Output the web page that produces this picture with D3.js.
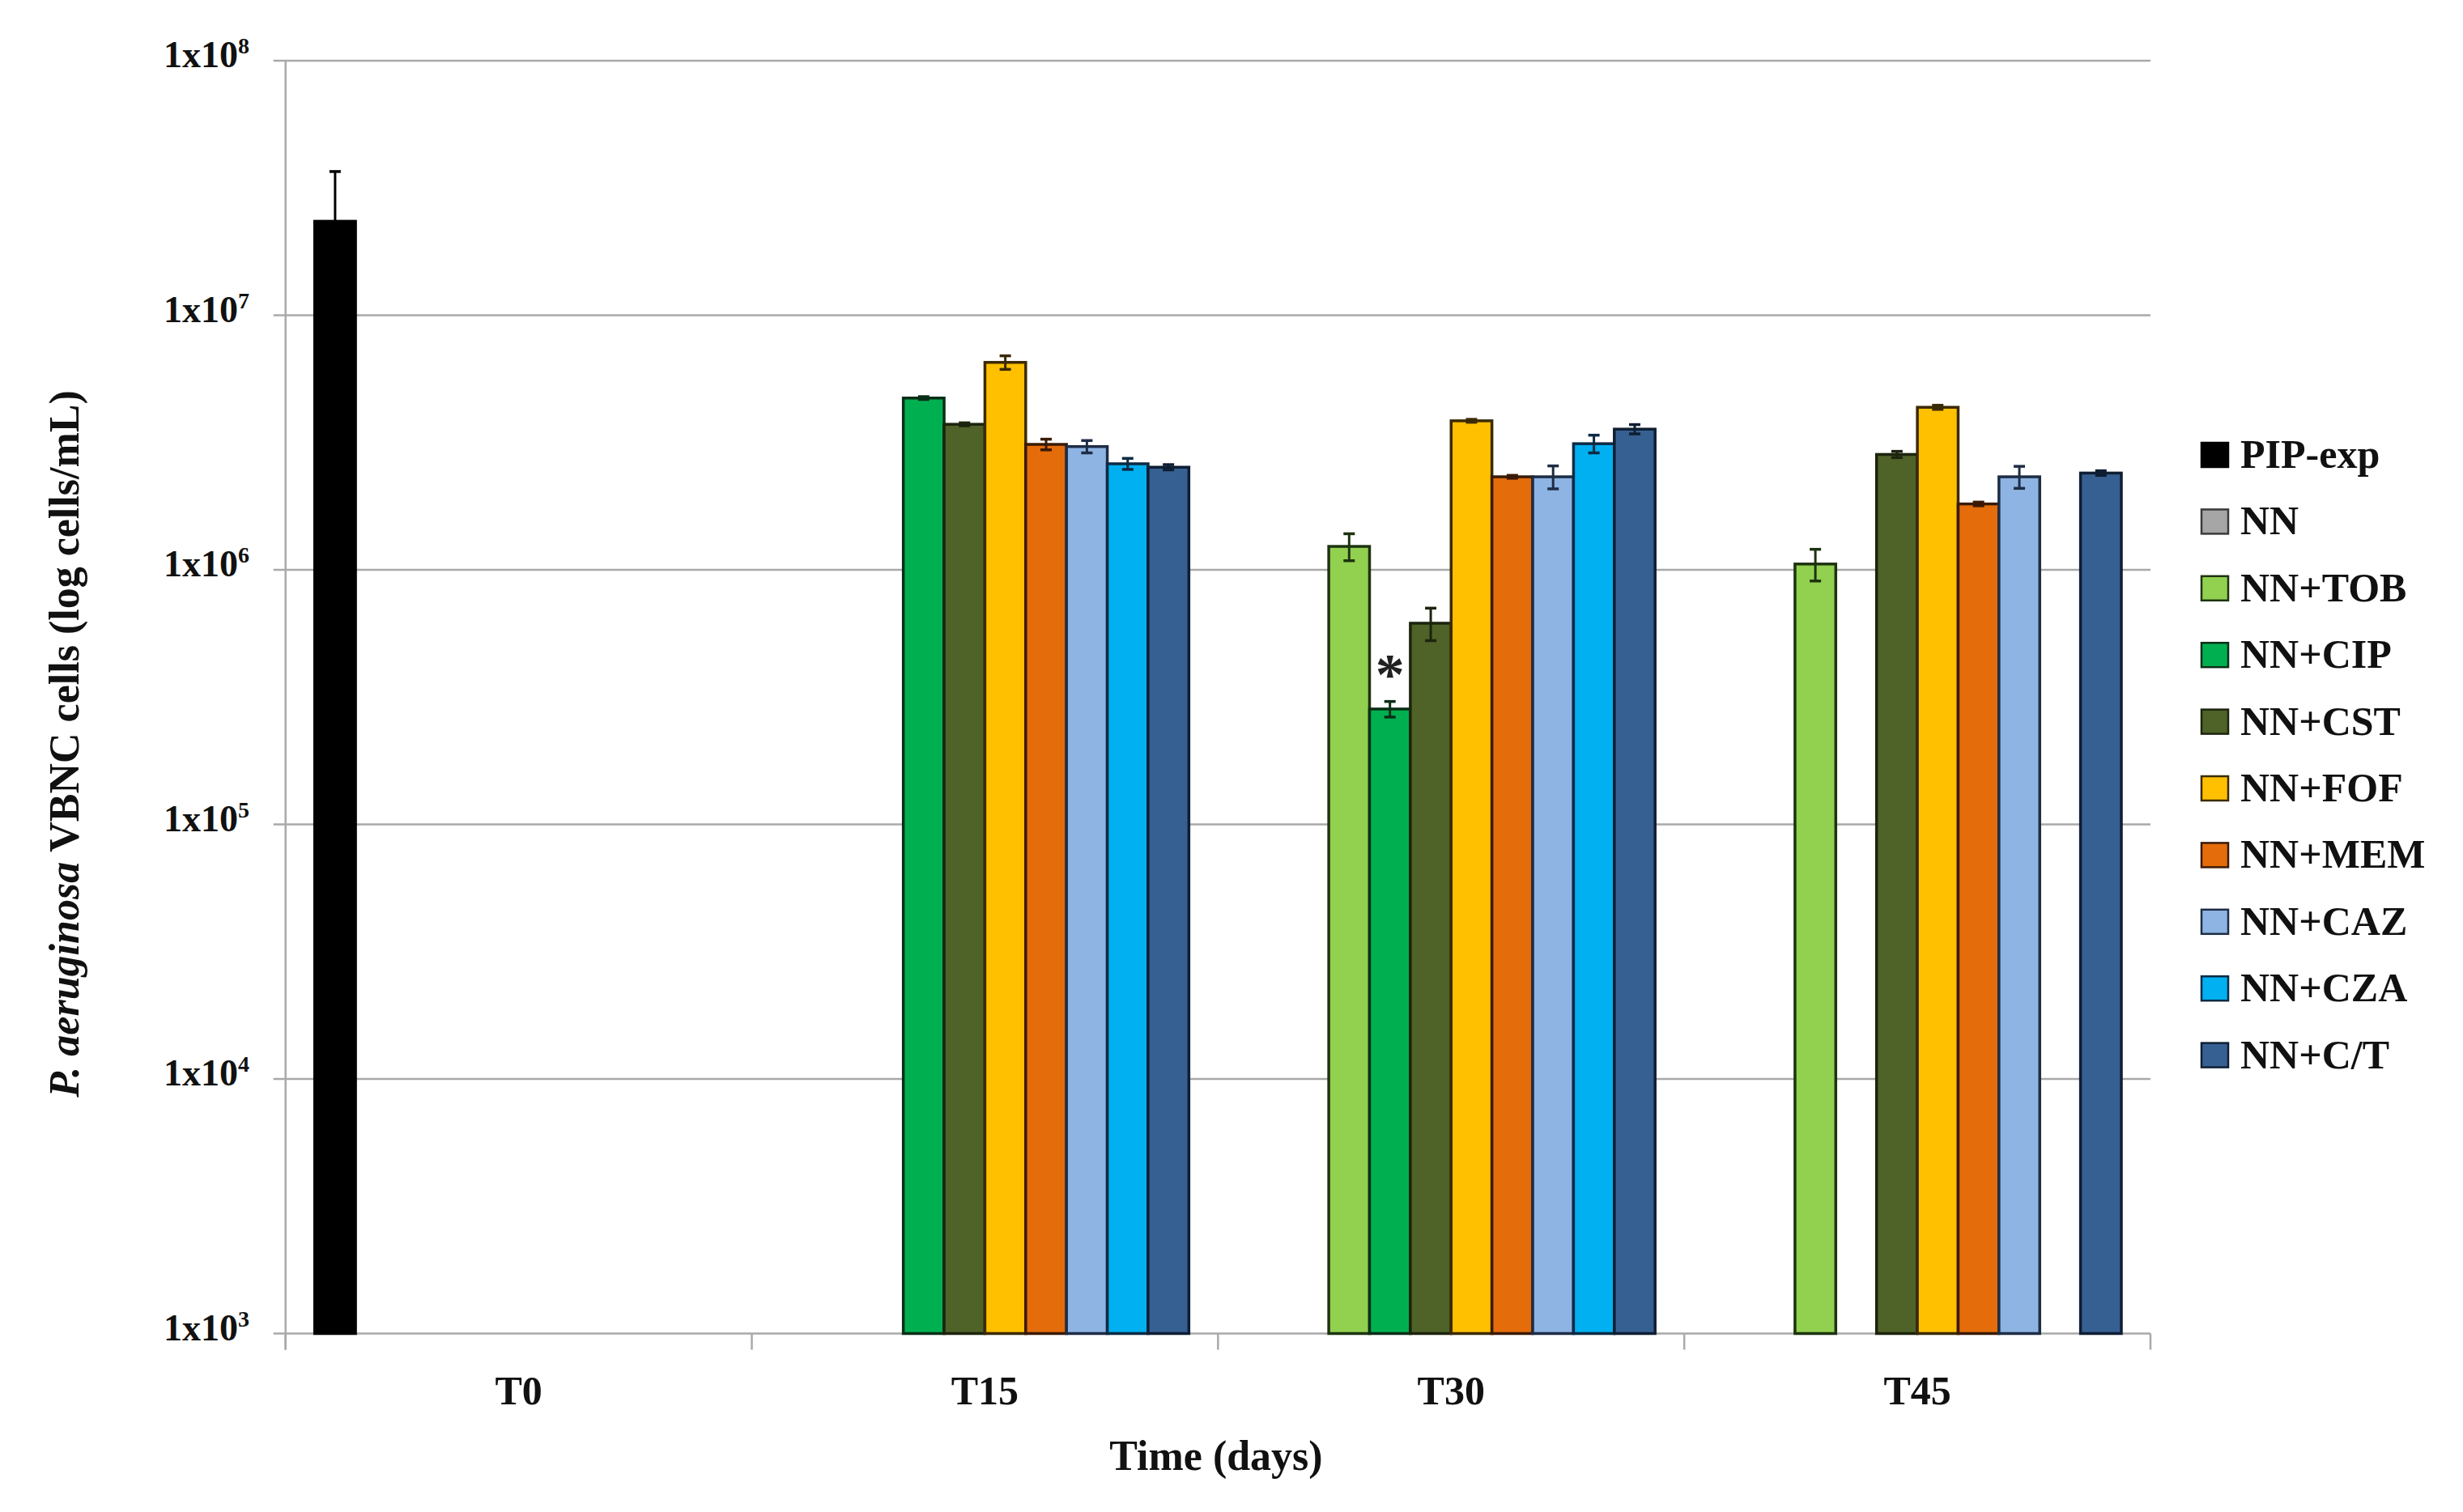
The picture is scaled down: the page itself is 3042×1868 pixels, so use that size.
<!DOCTYPE html>
<html>
<head>
<meta charset="utf-8">
<script src="https://cdn.jsdelivr.net/npm/d3@7"></script>
<style>
  html, body { margin: 0; padding: 0; background: #ffffff; }
  svg { display: block; }
  text { font-family: "Liberation Serif", "DejaVu Serif", serif; }
</style>
</head>
<body>
<svg id="chart" width="3042" height="1868"></svg>
<script>
// ---------------- DATA ----------------
const categories = ["T0", "T15", "T30", "T45"];
const seriesNames = ["PIP-exp", "NN", "NN+TOB", "NN+CIP", "NN+CST", "NN+FOF", "NN+MEM", "NN+CAZ", "NN+CZA", "NN+C/T"];
const seriesColors = ["#000000", "#A6A6A6", "#92D050", "#00B050", "#4F6228", "#FFC000", "#E46C0A", "#8EB4E3", "#00B0F0", "#376092"];
const seriesStrokes = ["#000000", "#3a3a3a", "#1d3310", "#0b2e17", "#1c240e", "#3b2a06", "#3a1a05", "#1e2d45", "#0c2a44", "#0f1e33"];

// values per series for T0, T15, T30, T45 (cells/mL); null = not shown
const valPIP = [2.34e7, null, null, null];
const valNN  = [null, null, null, null];
const valTOB = [null, null, 1.236e6, 1.054e6];
const valCIP = [null, 4.73e6, 2.84e5, null];
const valCST = [null, 3.73e6, 6.17e5, 2.84e6];
const valFOF = [null, 6.53e6, 3.85e6, 4.35e6];
const valMEM = [null, 3.11e6, 2.32e6, 1.815e6];
const valCAZ = [null, 3.05e6, 2.32e6, 2.32e6];
const valCZA = [null, 2.61e6, 3.13e6, null];
const valCT  = [null, 2.53e6, 3.57e6, 2.40e6];

// standard deviations (error bars)
const errPIP = [1.33e7, null, null, null];
const errNN  = [null, null, null, null];
const errTOB = [null, null, 0.15e6, 0.15e6];
const errCIP = [null, 0.06e6, 0.2e5, null];
const errCST = [null, 0.05e6, 0.9e5, 0.08e6];
const errFOF = [null, 0.4e6, 0.05e6, 0.08e6];
const errMEM = [null, 0.15e6, 0.03e6, 0.03e6];
const errCAZ = [null, 0.17e6, 0.24e6, 0.23e6];
const errCZA = [null, 0.13e6, 0.25e6, null];
const errCT  = [null, 0.06e6, 0.15e6, 0.05e6];

const seriesValues = [valPIP, valNN, valTOB, valCIP, valCST, valFOF, valMEM, valCAZ, valCZA, valCT];
const seriesErrors = [errPIP, errNN, errTOB, errCIP, errCST, errFOF, errMEM, errCAZ, errCZA, errCT];

const yTickValues = [1e3, 1e4, 1e5, 1e6, 1e7, 1e8];
const yTickExponents = ["3", "4", "5", "6", "7", "8"];

// significance marker
const markers = [{ category: "T30", series: "NN+CIP", text: "*" }];

const xTitle = "Time (days)";
const yTitleItalic = "P. aeruginosa";
const yTitleRest = " VBNC cells (log cells/mL)";

// ---------------- LAYOUT ----------------
const svg = d3.select("#chart");
const plotLeft = 352.7, plotRight = 2656, plotTop = 75, plotBottom = 1647.5;
const gridColor = "#A9A9A9";

const x0 = d3.scaleBand().domain(categories).range([plotLeft, plotRight]).padding(0);
const bw = x0.bandwidth();
const gapHalf = bw * 0.0625;
const x1 = d3.scaleBand().domain(seriesNames).range([gapHalf, bw - gapHalf]).padding(0);
const y = d3.scaleLog().domain([1e3, 1e8]).range([plotBottom, plotTop]);

// gridlines + left ticks
const gY = svg.append("g");
gY.selectAll("line.grid").data(yTickValues).join("line")
  .attr("x1", plotLeft - 15).attr("x2", plotRight)
  .attr("y1", d => y(d)).attr("y2", d => y(d))
  .attr("stroke", gridColor).attr("stroke-width", 2.5);

// left axis line
svg.append("line").attr("x1", plotLeft).attr("x2", plotLeft)
  .attr("y1", plotTop).attr("y2", plotBottom + 20)
  .attr("stroke", gridColor).attr("stroke-width", 2.5);

// bottom category ticks
const boundaries = categories.map(c => x0(c)).concat([plotRight]);
svg.append("g").selectAll("line").data(boundaries).join("line")
  .attr("x1", d => d).attr("x2", d => d)
  .attr("y1", plotBottom).attr("y2", plotBottom + 20)
  .attr("stroke", gridColor).attr("stroke-width", 2.5);

// y tick labels
const yl = svg.append("g").selectAll("text").data(yTickValues).join("text")
  .attr("x", 308).attr("y", d => y(d) + 8)
  .attr("text-anchor", "end")
  .attr("font-size", 46).attr("font-weight", "bold").attr("fill", "#111");
yl.append("tspan").text("1x10");
yl.append("tspan").attr("font-size", 28).attr("dy", -17).text((d, i) => yTickExponents[i]);

// x tick labels
svg.append("g").selectAll("text").data(categories).join("text")
  .attr("x", d => x0(d) + bw / 2).attr("y", 1735)
  .attr("text-anchor", "middle")
  .attr("font-size", 50).attr("font-weight", "bold").attr("fill", "#111")
  .text(d => d);

// axis titles
svg.append("text").attr("x", 1502).attr("y", 1816)
  .attr("text-anchor", "middle").attr("font-size", 52).attr("font-weight", "bold").attr("fill", "#111")
  .text(xTitle);

const yt = svg.append("text")
  .attr("transform", "translate(97,919) rotate(-90)")
  .attr("text-anchor", "middle").attr("font-size", 52).attr("font-weight", "bold").attr("fill", "#111");
yt.append("tspan").attr("font-style", "italic").text(yTitleItalic);
yt.append("tspan").text(yTitleRest);

// ---------------- BARS ----------------
const barData = [];
seriesNames.forEach((s, si) => {
  categories.forEach((c, ci) => {
    const v = seriesValues[si][ci];
    if (v != null) barData.push({ s, si, c, v, e: seriesErrors[si][ci] });
  });
});

const gBars = svg.append("g");
gBars.selectAll("rect").data(barData).join("rect")
  .attr("x", d => x0(d.c) + x1(d.s))
  .attr("y", d => y(d.v))
  .attr("width", x1.bandwidth())
  .attr("height", d => y(1e3) - y(d.v))
  .attr("fill", d => seriesColors[d.si])
  .attr("stroke", d => seriesStrokes[d.si])
  .attr("stroke-width", 3.5);

// error bars
const capHalf = 7;
const gErr = svg.append("g");
const errData = barData.filter(d => d.e != null);
gErr.selectAll("line.v").data(errData).join("line")
  .attr("x1", d => x0(d.c) + x1(d.s) + x1.bandwidth() / 2)
  .attr("x2", d => x0(d.c) + x1(d.s) + x1.bandwidth() / 2)
  .attr("y1", d => y(d.v + d.e)).attr("y2", d => y(Math.max(d.v - d.e, 1e3)))
  .attr("stroke", d => seriesStrokes[d.si]).attr("stroke-width", 3);
["hi", "lo"].forEach(k => {
  gErr.selectAll("line.cap" + k).data(errData).join("line")
    .attr("x1", d => x0(d.c) + x1(d.s) + x1.bandwidth() / 2 - capHalf)
    .attr("x2", d => x0(d.c) + x1(d.s) + x1.bandwidth() / 2 + capHalf)
    .attr("y1", d => y(k === "hi" ? d.v + d.e : d.v - d.e))
    .attr("y2", d => y(k === "hi" ? d.v + d.e : d.v - d.e))
    .attr("stroke", d => seriesStrokes[d.si]).attr("stroke-width", 3.5);
});

// significance markers
svg.append("g").selectAll("text").data(markers).join("text")
  .attr("x", d => x0(d.category) + x1(d.series) + x1.bandwidth() / 2)
  .attr("y", d => {
    const si = seriesNames.indexOf(d.series), ci = categories.indexOf(d.category);
    return y(seriesValues[si][ci] + seriesErrors[si][ci]) - 10;
  })
  .attr("text-anchor", "middle").attr("font-size", 72).attr("font-weight", "bold").attr("fill", "#222")
  .text(d => d.text);

// ---------------- LEGEND ----------------
const legend = svg.append("g");
const legY0 = 562, legStep = 82.4;
const items = legend.selectAll("g").data(seriesNames).join("g")
  .attr("transform", (d, i) => `translate(2719,${legY0 + i * legStep})`);
items.append("rect").attr("x", 0).attr("y", -15).attr("width", 33).attr("height", 30)
  .attr("fill", (d, i) => seriesColors[i]).attr("stroke", (d, i) => seriesStrokes[i]).attr("stroke-width", 2.5);
items.append("text").attr("x", 48).attr("y", 16)
  .attr("font-size", 50).attr("font-weight", "bold").attr("fill", "#111")
  .text(d => d);
</script>
</body>
</html>
